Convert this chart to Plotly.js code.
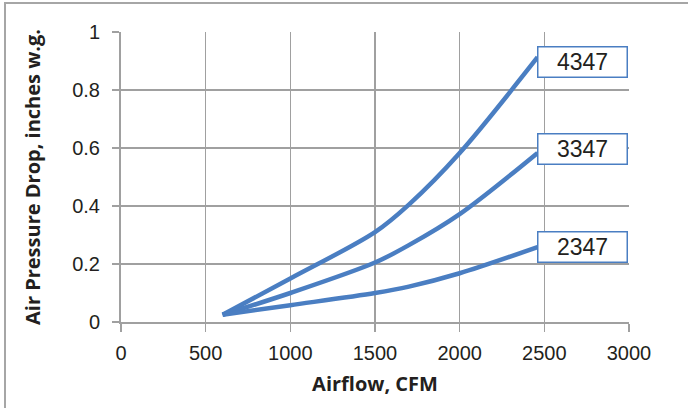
<!DOCTYPE html>
<html>
<head>
<meta charset="utf-8">
<script src="https://cdn.plot.ly/plotly-3.0.1.min.js"></script>
<style>
html,body{margin:0;padding:0;background:#fff;}
#wrap{position:relative;width:688px;height:408px;overflow:hidden;}
#chart{width:688px;height:408px;}
#frame{position:absolute;left:4px;top:2px;width:690px;height:420px;border-left:2px solid #a6a6a6;border-top:2px solid #a6a6a6;pointer-events:none;}
</style>
</head>
<body>
<div id="wrap"><div id="chart"></div><div id="frame"></div></div>
<script>
const airflow = [600, 1000, 1500, 1700, 2000, 2460];
const s4347 = [0.025, 0.15, 0.31, 0.405, 0.583, 0.913];
const s3347 = [0.025, 0.1, 0.205, 0.265, 0.372, 0.583];
const s2347 = [0.025, 0.058, 0.1, 0.122, 0.168, 0.258];
const seriesNames = ['4347', '3347', '2347'];
const labelY = [0.897, 0.598, 0.258];
const xTicks = [0, 500, 1000, 1500, 2000, 2500, 3000];
const yTicks = [0, 0.2, 0.4, 0.6, 0.8, 1];
const yTickText = ['0', '0.2', '0.4', '0.6', '0.8', '1'];

const lineColor = '#4a7ec2';
const series = [s4347, s3347, s2347];
const traces = series.map((s, i) => ({
  x: airflow, y: s, type: 'scatter', mode: 'lines', name: seriesNames[i],
  line: {color: lineColor, width: 4.5, shape: 'spline', smoothing: 0.9},
  hoverinfo: 'skip'
}));

const annotations = seriesNames.map((n, i) => ({
  x: airflow[airflow.length - 1], y: labelY[i], xref: 'x', yref: 'y',
  text: n, showarrow: false, xanchor: 'left', yanchor: 'middle', xshift: -1,
  font: {family: 'Liberation Sans, Arial, sans-serif', size: 23, color: '#231f20'},
  bgcolor: '#ffffff', bordercolor: lineColor, borderwidth: 1.5, borderpad: 2,
  width: 84, height: 25, align: 'center'
}));

const layout = {
  width: 688, height: 408,
  margin: {l: 121, r: 59, t: 32, b: 86},
  paper_bgcolor: '#ffffff', plot_bgcolor: '#ffffff',
  showlegend: false,
  font: {family: 'Liberation Sans, Arial, sans-serif', size: 20, color: '#231f20'},
  xaxis: {
    range: [0, 3000], tickvals: xTicks, ticktext: xTicks.map(String),
    showgrid: true, gridcolor: '#a0a0a0', gridwidth: 1.5,
    showline: true, linecolor: '#a0a0a0', linewidth: 2,
    ticks: 'outside', ticklen: 8, tickcolor: '#a0a0a0', tickwidth: 1.5,
    ticklabelstandoff: 4,
    zeroline: false, fixedrange: true,
    tickfont: {size: 20, color: '#231f20'},
    title: {text: 'Airflow, CFM', standoff: 14,
      font: {family: 'Open Sans, sans-serif', size: 20, weight: 'bold', color: '#231f20'}}
  },
  yaxis: {
    range: [0, 1], tickvals: yTicks, ticktext: yTickText,
    showgrid: true, gridcolor: '#a0a0a0', gridwidth: 1.5,
    showline: true, linecolor: '#a0a0a0', linewidth: 2,
    ticks: 'outside', ticklen: 7, tickcolor: '#a0a0a0', tickwidth: 1.5,
    ticklabelstandoff: 8,
    zeroline: false, fixedrange: true,
    tickfont: {size: 20, color: '#231f20'},
    title: {text: 'Air Pressure Drop, inches w.g.', standoff: 26,
      font: {family: 'Open Sans, sans-serif', size: 20, weight: 'bold', color: '#231f20'}}
  },
  annotations: annotations
};

Plotly.newPlot('chart', traces, layout, {displayModeBar: false, staticPlot: true});
</script>
</body>
</html>
